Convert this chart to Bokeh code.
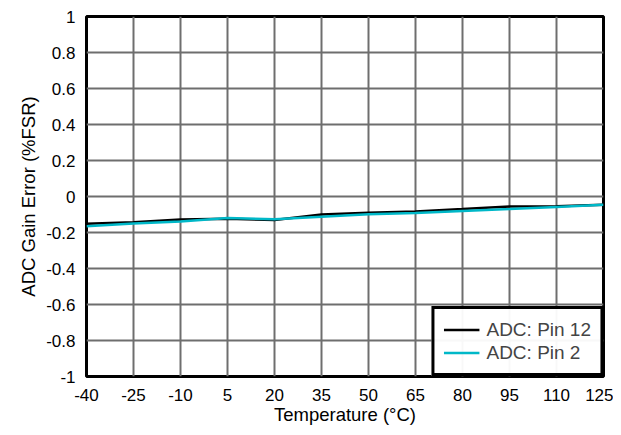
from bokeh.plotting import figure
from bokeh.models import FixedTicker, Legend, LegendItem
from bokeh.embed import file_html
from bokeh.resources import INLINE

temps = [-40, -25, -10, 5, 20, 35, 50, 65, 80, 95, 110, 125]
pin12 = [-0.152, -0.143, -0.128, -0.124, -0.13, -0.10, -0.09, -0.083, -0.07, -0.056, -0.054, -0.046]
pin2 = [-0.165, -0.150, -0.139, -0.120, -0.126, -0.112, -0.098, -0.091, -0.080, -0.070, -0.058, -0.046]
x_ticks = [-40, -25, -10, 5, 20, 35, 50, 65, 80, 95, 110, 125]
x_labels = {t: str(t) for t in x_ticks}
y_ticks = [-1, -0.8, -0.6, -0.4, -0.2, 0, 0.2, 0.4, 0.6, 0.8, 1]
y_labels = {-1: "-1", -0.8: "-0.8", -0.6: "-0.6", -0.4: "-0.4", -0.2: "-0.2", 0: "0",
            0.2: "0.2", 0.4: "0.4", 0.6: "0.6", 0.8: "0.8", 1: "1"}

p = figure(width=613, height=427, x_range=(-40, 125), y_range=(-1, 1),
           output_backend="svg", toolbar_location=None,
           min_border_left=86, min_border_right=10, min_border_top=16, min_border_bottom=51)

FONT = "Liberation Sans"
p.outline_line_color = "black"
p.outline_line_width = 3
for ax in (p.xaxis[0], p.yaxis[0]):
    ax.axis_line_color = None
    ax.major_tick_line_color = None
    ax.minor_tick_line_color = None
    ax.major_label_text_font = FONT
    ax.major_label_text_font_size = "17px"
    ax.major_label_text_color = "black"
    ax.axis_label_text_font = FONT
    ax.axis_label_text_font_size = "18.5px"
    ax.axis_label_text_font_style = "normal"
    ax.axis_label_text_color = "black"

p.xaxis.ticker = FixedTicker(ticks=x_ticks)
p.yaxis.ticker = FixedTicker(ticks=y_ticks)
p.xaxis.major_label_overrides = x_labels
p.yaxis.major_label_overrides = y_labels
p.xaxis.major_label_standoff = 6
p.yaxis.major_label_standoff = 5
p.xaxis.axis_label = "Temperature (°C)"
p.yaxis.axis_label = "ADC Gain Error (%FSR)"
p.xaxis.axis_label_standoff = 0
p.yaxis.axis_label_standoff = 4

p.grid.grid_line_color = "#6e6e6e"
p.grid.grid_line_width = 2
p.grid.grid_line_alpha = 1

r1 = p.line(temps, pin12, line_color="black", line_width=2.5)
r2 = p.line(temps, pin2, line_color="#00b8c8", line_width=2.5)

legend = Legend(items=[LegendItem(label="ADC: Pin 12", renderers=[r1]),
                       LegendItem(label="ADC: Pin 2", renderers=[r2])],
                location="bottom_right")
legend.label_text_font = FONT
legend.label_text_font_size = "19px"
legend.border_line_color = "black"
legend.border_line_width = 3
legend.border_line_alpha = 1
legend.margin = 0
legend.padding = 9
legend.spacing = 0
legend.glyph_width = 36
legend.label_standoff = 7
legend.label_height = 23
legend.glyph_height = 23
p.add_layout(legend)

open("out.html", "w").write(file_html(p, INLINE))
